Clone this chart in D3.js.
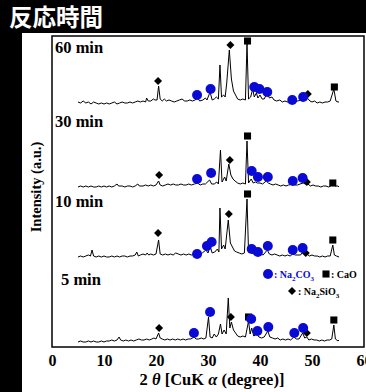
<!DOCTYPE html>
<html>
<head>
<meta charset="utf-8">
<script src="https://cdn.jsdelivr.net/npm/d3@7"></script>
<style>
  body { margin: 0; background: #000; }
  svg { display: block; }
</style>
</head>
<body>
<div id="chart"></div>
<script>
const width = 366;
const height = 392;

// x ticks (2 theta)
const xTicks = [0, 10, 20, 30, 40, 50, 60];

// samples, bottom to top, with vertical offset (a.u.)
const samples = ["5 min", "10 min", "30 min", "60 min"];
const offsets = [0, 85, 155, 239];

// XRD patterns: [2theta, intensity above own baseline]
const trace5 = [[5,0],[5.5,1],[6,0],[6.5,0],[7,1],[7.5,0],[8,1],[8.5,0],[9,0],[9.5,1],[10,0],[10.5,1],[11,1],[11.5,2],[12,1],[12.5,2],[12.9,5],[13.2,2],[13.7,1],[14.2,2],[14.7,1],[15.2,2],[15.7,1],[16.2,2],[16.7,3],[17.2,2],[17.7,2],[18.2,3],[18.7,2],[19.2,3],[19.6,4],[20,3],[20.5,9],[20.8,4],[21.2,3],[21.7,2],[22.2,3],[22.7,2],[23.2,3],[23.7,2],[24.2,3],[24.7,2],[25.2,3],[25.7,2],[26.2,3],[26.7,3],[27.3,5],[27.7,3],[28.2,3],[28.7,4],[29.2,3],[29.6,4],[30.1,25],[30.4,5],[30.8,4],[31.2,8],[31.6,5],[32,8],[32.4,18],[32.7,8],[33.1,12],[33.5,8],[33.9,44],[34.2,14],[34.5,20],[34.9,12],[35.3,9],[35.7,6],[36.2,5],[36.7,6],[37.2,5],[37.8,21],[38.1,8],[38.4,14],[38.8,6],[39.4,8],[39.8,5],[40.3,4],[40.8,5],[41.5,11],[41.9,5],[42.4,4],[42.9,3],[43.4,4],[43.9,2],[44.4,3],[44.9,2],[45.4,3],[45.9,2],[46.5,5],[47,3],[47.5,3],[48.2,9],[48.6,4],[49,5],[49.4,2],[49.9,3],[50.4,2],[50.9,2],[51.4,1],[51.9,2],[52.4,1],[52.9,2],[53.4,2],[53.8,3],[54.2,17],[54.5,3],[55,1],[55.2,2]];

const trace10 = [[5,0],[5.5,1],[6,0],[6.5,1],[7,2],[7.4,1],[7.7,7],[8,1],[8.5,0],[9,1],[9.5,0],[10,1],[10.5,0],[11,0],[11.5,1],[12,0],[12.5,1],[13,0],[13.5,1],[14,1],[14.5,0],[15,1],[15.5,1],[16,2],[16.3,5],[16.6,1],[17,2],[17.5,3],[18,2],[18.3,4],[18.6,2],[19,3],[19.5,2],[20,3],[20.5,17],[20.8,3],[21.3,2],[21.8,3],[22.3,2],[22.8,3],[23.3,2],[23.8,4],[24.3,3],[24.8,2],[25.3,3],[25.8,2],[26.3,3],[26.8,2],[27.4,3],[27.9,2],[28.4,3],[28.9,4],[29.6,7],[30,4],[30.4,11],[30.8,4],[31.3,5],[31.8,8],[32.1,5],[32.3,49],[32.6,8],[33,12],[33.3,8],[33.9,37],[34.3,14],[34.7,10],[35.1,6],[35.5,5],[36,4],[36.5,3],[37,4],[37.5,58],[37.8,5],[38.3,5],[38.7,3],[39.2,4],[39.6,3],[40.1,3],[40.6,2],[41.4,7],[41.8,3],[42.3,2],[42.8,3],[43.3,2],[43.8,1],[44.3,2],[44.8,1],[45.3,2],[45.8,1],[46.3,3],[46.8,2],[47.3,2],[47.8,2],[48.2,5],[48.6,2],[49,3],[49.5,1],[50,2],[50.5,1],[51,1],[51.5,0],[52,1],[52.5,0],[53,1],[53.5,1],[54,12],[54.3,2],[54.7,1],[55.2,0]];

const trace30 = [[5,0],[5.5,1],[6,0],[6.5,1],[7,0],[7.5,1],[8,0],[8.5,0],[9,1],[9.5,0],[10,1],[10.5,0],[11,1],[11.5,0],[12,1],[12.5,3],[12.8,1],[13.5,1],[14,0],[14.5,1],[15,1],[15.5,0],[16,1],[16.5,3],[16.8,1],[17.5,1],[18,2],[18.5,1],[19,2],[19.5,1],[20,2],[20.5,6],[20.8,2],[21.3,1],[21.8,2],[22.3,3],[22.8,2],[23.3,3],[23.8,2],[24.3,2],[24.8,3],[25.3,2],[25.8,2],[26.3,3],[26.8,2],[27.4,3],[28,4],[28.5,2],[29,3],[29.5,3],[30.3,7],[30.7,3],[31.2,3],[31.7,5],[32,3],[32.4,37],[32.7,5],[33.2,10],[33.5,6],[34,23],[34.4,12],[34.8,8],[35.2,6],[35.7,4],[36.2,3],[36.7,4],[37.2,3],[37.5,46],[37.8,4],[38.3,8],[38.7,4],[39.1,5],[39.5,4],[40,4],[40.5,3],[41.2,6],[41.6,4],[42,3],[42.5,2],[43,3],[43.5,2],[44,1],[44.5,2],[45,1],[45.5,2],[46.2,3],[46.7,2],[47.2,2],[47.7,3],[48.3,4],[48.7,3],[49.2,3],[49.7,1],[50.2,2],[50.7,1],[51.2,1],[51.7,0],[52.2,1],[52.7,1],[53.2,0],[53.6,1],[54,4],[54.4,1],[55,1],[55.2,0]];

const trace60 = [[5,1],[5.5,0],[6,2],[6.5,0],[7,1],[7.5,-1],[8,1],[8.5,0],[9,-1],[9.5,0],[10,-1],[10.5,0],[11,-1],[11.5,0],[12,1],[12.5,-1],[13,0],[13.5,1],[14,0],[14.5,0],[15,1],[15.5,0],[16,1],[16.5,2],[17,1],[17.5,2],[18,1],[18.2,5],[18.5,2],[19,2],[19.5,4],[19.8,3],[20.2,3],[20.5,17],[20.8,4],[21.2,2],[21.6,4],[22,2],[22.5,3],[23,2],[23.5,1],[24,2],[24.5,3],[25,4],[25.5,2],[26,2],[26.5,3],[27,2],[27.5,3],[28,5],[28.4,2],[29,3],[29.5,5],[29.8,3],[30.4,11],[30.8,3],[31.2,4],[31.6,6],[32,4],[32.3,38],[32.6,6],[33,8],[33.3,6],[33.6,20],[34.1,53],[34.5,24],[34.9,12],[35.3,8],[35.7,4],[36.2,3],[36.7,4],[37.2,3],[37.5,60],[37.8,4],[38.2,6],[38.6,14],[38.9,6],[39.3,10],[39.6,5],[40,8],[40.4,4],[40.8,4],[41.4,10],[41.8,5],[42.3,6],[42.7,3],[43.2,2],[43.8,3],[44.3,1],[44.8,2],[45.3,1],[45.8,2],[46.3,4],[46.8,2],[47.3,2],[47.8,3],[48.3,8],[48.7,4],[49.1,5],[49.6,2],[50,1],[50.5,2],[51,0],[51.5,1],[52,0],[52.5,1],[53,1],[53.5,2],[54.2,14],[54.6,2],[55,1],[55.2,1]];

const traces = [trace5, trace10, trace30, trace60];

// phase markers: [2theta, height above own baseline]
const na2co3 = [
  [[27.3,9],[30.4,30],[38.3,23],[39.5,11],[41.6,15],[46.6,9],[48.3,14]],
  [[27.9,3],[29.8,11],[30.7,15],[38.4,8],[39.6,5],[41.5,11],[46.3,7],[48.2,9]],
  [[27.9,8],[30.6,14],[38.4,16],[39.6,10],[41.5,10],[46.3,6],[48.2,9]],
  [[27.9,8],[30.5,14],[38.9,16],[39.9,14],[41.4,11],[46.2,3],[48.3,6]]
];
const cao = [
  [[37.8,25],[54.2,22]],
  [[37.6,63],[54.0,17]],
  [[37.6,51],[54.0,4]],
  [[37.6,62],[54.3,16]]
];
const na2sio3 = [
  [[20.6,14],[34.4,25],[49.0,9]],
  [[20.4,24],[34.0,43],[48.8,4]],
  [[20.6,12],[34.2,27],[49.0,5]],
  [[20.4,22],[34.3,58],[49.2,9]]
];

const blue = "#0a0ad6";
const serif = "'Liberation Serif', 'Times New Roman', serif";

const svg = d3.select("#chart")
    .append("svg")
    .attr("width", width)
    .attr("height", height);

// black slide background with white panel
svg.append("rect").attr("width", width).attr("height", height).attr("fill", "#000");
svg.append("text")
    .attr("x", 9).attr("y", 26)
    .attr("fill", "#fff")
    .style("font-family", "'Noto Sans CJK JP', sans-serif")
    .style("font-weight", "bold")
    .style("font-size", "23.5px")
    .text("反応時間");
svg.append("rect")
    .attr("x", 22).attr("y", 33)
    .attr("width", width - 22).attr("height", height - 33)
    .attr("fill", "#fff");

const margin = { left: 52, right: 364, top: 36, bottom: 347 };

const x = d3.scaleLinear().domain([0, 60]).range([margin.left, margin.right]);
const y = d3.scaleLinear().domain([-5, 306]).range([margin.bottom, margin.top]);

// frame
svg.append("rect")
    .attr("x", margin.left).attr("y", margin.top)
    .attr("width", margin.right - margin.left)
    .attr("height", margin.bottom - margin.top)
    .attr("fill", "none")
    .attr("stroke", "#000")
    .attr("stroke-width", 1.5);

// x axis labels
const xAxis = svg.append("g")
    .attr("transform", `translate(0,${margin.bottom})`)
    .call(d3.axisBottom(x).tickValues(xTicks).tickSize(0).tickPadding(8).tickFormat(d3.format("d")));
xAxis.select(".domain").remove();
xAxis.selectAll("text")
    .style("font-family", serif)
    .style("font-weight", "bold")
    .style("font-size", "16px")
    .attr("fill", "#000");

// axis titles
const xTitle = svg.append("text")
    .attr("x", 212).attr("y", 385)
    .attr("text-anchor", "middle")
    .style("font-family", serif)
    .style("font-weight", "bold")
    .style("font-size", "16.5px");
xTitle.append("tspan").text("2");
xTitle.append("tspan").attr("font-style", "italic").text(" θ  ");
xTitle.append("tspan").text("[CuK");
xTitle.append("tspan").attr("font-style", "italic").text(" α ");
xTitle.append("tspan").text(" (degree)]");

svg.append("text")
    .attr("transform", "translate(41,187) rotate(-90)")
    .attr("text-anchor", "middle")
    .style("font-family", serif)
    .style("font-weight", "bold")
    .style("font-size", "14.5px")
    .text("Intensity (a.u.)");

// patterns
const line = d3.line();
traces.forEach((tr, i) => {
    svg.append("path")
        .attr("d", line(tr.map(d => [x(d[0]), y(d[1] + offsets[i])])))
        .attr("fill", "none")
        .attr("stroke", "#000")
        .attr("stroke-width", 1)
        .attr("stroke-linejoin", "round");
});

// sample labels
const labelPos = [[61, 285], [55, 207], [55, 127], [55, 53]];
samples.forEach((s, i) => {
    svg.append("text")
        .attr("x", labelPos[i][0]).attr("y", labelPos[i][1])
        .style("font-family", serif)
        .style("font-weight", "bold")
        .style("font-size", "16.5px")
        .text(s);
});

// markers
const diamond = d3.symbol().type(d3.symbolSquare).size(32);
const square = d3.symbol().type(d3.symbolSquare).size(50);
samples.forEach((s, i) => {
    svg.selectAll(null)
        .data(na2sio3[i]).enter()
        .append("path")
        .attr("d", diamond)
        .attr("transform", d => `translate(${x(d[0])},${y(d[1] + offsets[i])}) rotate(45)`)
        .attr("fill", "#000");
    svg.selectAll(null)
        .data(cao[i]).enter()
        .append("path")
        .attr("d", square)
        .attr("transform", d => `translate(${x(d[0])},${y(d[1] + offsets[i])})`)
        .attr("fill", "#000");
    svg.selectAll(null)
        .data(na2co3[i]).enter()
        .append("circle")
        .attr("cx", d => x(d[0]))
        .attr("cy", d => y(d[1] + offsets[i]))
        .attr("r", 5)
        .attr("fill", blue);
});

// legend
const legend = svg.append("g")
    .style("font-family", serif)
    .style("font-weight", "bold")
    .style("font-size", "10px");
legend.append("circle").attr("cx", 268).attr("cy", 274).attr("r", 5).attr("fill", blue);
const t1 = legend.append("text").attr("x", 274).attr("y", 278).attr("fill", blue);
t1.append("tspan").text(": Na");
t1.append("tspan").attr("dy", 3).style("font-size", "7px").text("2");
t1.append("tspan").attr("dy", -3).text("CO");
t1.append("tspan").attr("dy", 3).style("font-size", "7px").text("3");
legend.append("path").attr("d", square).attr("transform", "translate(326,274)").attr("fill", "#000");
legend.append("text").attr("x", 331).attr("y", 278).text(": CaO");
legend.append("path").attr("d", diamond).attr("transform", "translate(292,291) rotate(45)").attr("fill", "#000");
const t2 = legend.append("text").attr("x", 298).attr("y", 295);
t2.append("tspan").text(": Na");
t2.append("tspan").attr("dy", 3).style("font-size", "7px").text("2");
t2.append("tspan").attr("dy", -3).text("SiO");
t2.append("tspan").attr("dy", 3).style("font-size", "7px").text("3");
</script>
</body>
</html>
